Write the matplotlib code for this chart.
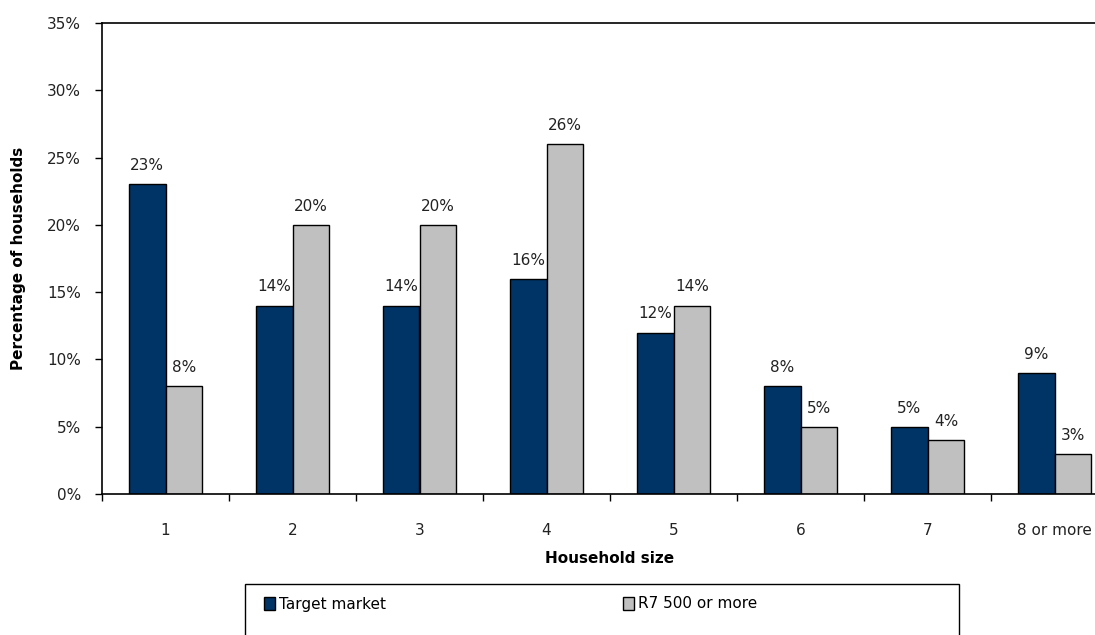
import matplotlib.pyplot as plt
from matplotlib.patches import Rectangle, Patch
import numpy as np

categories = ["1", "2", "3", "4", "5", "6", "7", "8 or more"]
target = [23, 14, 14, 16, 12, 8, 5, 9]
r7500 = [8, 20, 20, 26, 14, 5, 4, 3]
yticks = [0, 5, 10, 15, 20, 25, 30, 35]

navy = "#003366"
grey = "#C0C0C0"

plt.rcParams["font.family"] = ["DejaVu Sans"]

fig = plt.figure(figsize=(10.95, 6.35), dpi=100)
ax = fig.add_axes([102 / 1095, 1 - 494 / 635, 1016 / 1095, 471 / 635])

x = np.arange(len(categories))
w = 0.29
b1 = ax.bar(x - w / 2, target, w, color=navy, edgecolor="black", linewidth=1)
b2 = ax.bar(x + w / 2, r7500, w, color=grey, edgecolor="black", linewidth=1)

# Value labels above bars
for bars, vals in ((b1, target), (b2, r7500)):
    for bar, v in zip(bars, vals):
        ax.annotate(f"{v}%", (bar.get_x() + bar.get_width() / 2, v),
                    xytext=(0, 8), textcoords="offset points",
                    ha="center", va="bottom", fontsize=11, color="#222222")

ax.set_xlim(-0.5, len(categories) - 0.5)
ax.set_ylim(0, 35)
ax.set_yticks(yticks)
ax.set_yticklabels([f"{t}%" for t in yticks], fontsize=11, color="#222222")
ax.set_xticks(x)
ax.set_xticklabels(categories, fontsize=11, color="#222222")
ax.tick_params(axis="x", length=0, pad=21)
ax.set_xticks(np.arange(len(categories) + 1) - 0.5, minor=True)
ax.tick_params(axis="x", which="minor", length=5, width=1)
ax.tick_params(axis="y", length=5, width=1, pad=10)

for side in ("left", "bottom", "top"):
    ax.spines[side].set_linewidth(1.2)
ax.spines["right"].set_visible(False)

ax.set_xlabel("Household size", fontsize=11, fontweight="bold", labelpad=9)
ax.set_ylabel("Percentage of households", fontsize=11, fontweight="bold", labelpad=15)

# Legend box at the bottom
fig.patches.append(Rectangle((245 / 1095, 1 - 640 / 635), 714 / 1095, 56 / 635,
                             transform=fig.transFigure, fill=False,
                             edgecolor="black", linewidth=1))
handles = [Patch(facecolor=navy, edgecolor="black"),
           Patch(facecolor=grey, edgecolor="black")]
fig.legend(handles, ["Target market", "R7 500 or more"], ncol=2, frameon=False,
           loc="center left", bbox_to_anchor=(264 / 1095, 1 - 604 / 635),
           fontsize=11, handlelength=0.7, handleheight=0.9, handletextpad=0.3,
           columnspacing=15.5, borderpad=0, borderaxespad=0)

fig.savefig("out.png", dpi=100)
